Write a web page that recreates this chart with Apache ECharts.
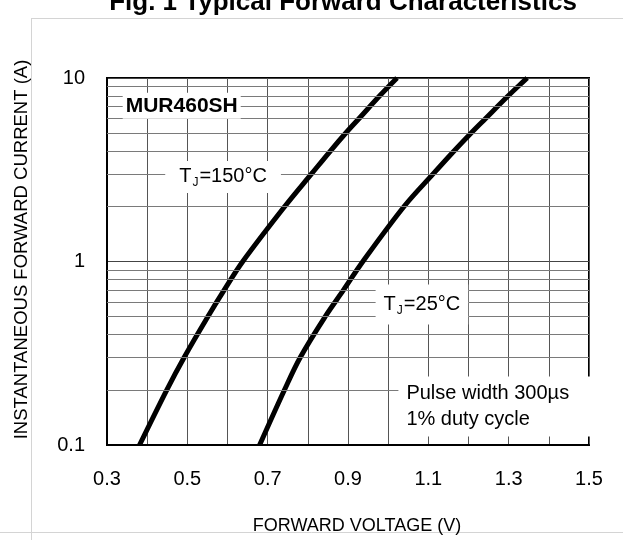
<!DOCTYPE html>
<html><head><meta charset="utf-8">
<script src="https://cdn.jsdelivr.net/npm/echarts@6/dist/echarts.min.js"></script>
<style>html,body{margin:0;padding:0;background:#fff}#c{width:623px;height:540px}</style>
</head><body><div id="c"></div>
<script>
// Data
const current = [0.1, 0.2, 0.3, 0.5, 0.7, 1, 2, 3, 4, 5, 6, 8, 10];
const voltage150 = [0.381, 0.449, 0.492, 0.551, 0.592, 0.638, 0.743, 0.809, 0.856, 0.894, 0.927, 0.979, 1.022];
const voltage25 = [0.68, 0.742, 0.781, 0.843, 0.889, 0.937, 1.040, 1.112, 1.164, 1.206, 1.242, 1.299, 1.346];
const minorCurrents = [0.2, 0.3, 0.4, 0.5, 0.6, 0.7, 0.8, 0.9, 2, 3, 4, 5, 6, 7, 8, 9];
const xLabels = [0.3, 0.5, 0.7, 0.9, 1.1, 1.3, 1.5];

const FONT = "'Liberation Sans', Arial, sans-serif";
const pair = (vs) => vs.map((v, i) => [v, current[i]]);
const richT = {
  t: { fontSize: 20, fontFamily: FONT, color: '#000' },
  s: { fontSize: 12, fontFamily: FONT, color: '#000', padding: [12, 1, 0, 1] }
};

const chart = echarts.init(document.getElementById('c'), null, { renderer: 'canvas' });
chart.setOption({
  animation: false,
  backgroundColor: '#fff',
  title: {
    text: 'Fig. 1 Typical Forward Characteristics',
    left: 343, top: -10, textAlign: 'center', padding: 0,
    textStyle: { fontFamily: FONT, fontWeight: 'bold', fontSize: 26, color: '#000' }
  },
  graphic: [
    { type: 'line', shape: { x1: 31.5, y1: 18, x2: 31.5, y2: 540 }, style: { stroke: '#d4d4d4', lineWidth: 1 }, z: -10 },
    { type: 'line', shape: { x1: 31, y1: 18.5, x2: 623, y2: 18.5 }, style: { stroke: '#d4d4d4', lineWidth: 1 }, z: -10 },
    { type: 'line', shape: { x1: 0, y1: 532.5, x2: 623, y2: 532.5 }, style: { stroke: '#d4d4d4', lineWidth: 1 }, z: -10 }
  ],
  grid: { left: 107, right: 34, top: 78, bottom: 91, show: true, borderColor: '#000', borderWidth: 2, backgroundColor: 'transparent' },
  xAxis: {
    type: 'value', min: 0.3, max: 1.5, interval: 0.1,
    name: 'FORWARD VOLTAGE (V)', nameLocation: 'middle', nameGap: 72,
    nameTextStyle: { fontFamily: FONT, fontSize: 18, color: '#000', padding: [0, 0, 0, 18] },
    axisLine: { show: true, lineStyle: { color: '#000', width: 2 } },
    axisTick: { show: false },
    axisLabel: {
      margin: 24, fontFamily: FONT, fontSize: 20, color: '#000',
      formatter: (v) => xLabels.some(t => Math.abs(t - v) < 1e-6) ? v.toFixed(1) : ''
    },
    splitLine: { show: true, lineStyle: { color: '#555', width: 1 } }
  },
  yAxis: {
    type: 'log', logBase: 10, min: 0.1, max: 10,
    name: 'INSTANTANEOUS FORWARD CURRENT (A)', nameLocation: 'middle', nameGap: 76,
    nameTextStyle: { fontFamily: FONT, fontSize: 18.5, color: '#000', padding: [0, 0, 0, 24] },
    axisLine: { show: true, lineStyle: { color: '#000', width: 2 } },
    axisTick: { show: false },
    axisLabel: { margin: 22, fontFamily: FONT, fontSize: 20, color: '#000' },
    splitLine: { show: true, lineStyle: { color: '#444', width: 1 } }
  },
  series: [
    {
      type: 'line', data: [], z: 1, silent: true,
      markLine: {
        silent: true, symbol: 'none', animation: false,
        label: { show: false },
        lineStyle: { color: '#7a7a7a', width: 1, type: 'solid' },
        data: minorCurrents.map(c => ({ yAxis: c }))
      }
    },
    {
      name: 'TJ=150C', type: 'line', data: pair(voltage150), smooth: 0.35, showSymbol: false, z: 3,
      lineStyle: { color: '#000', width: 5 }
    },
    {
      name: 'TJ=25C', type: 'line', data: pair(voltage25), smooth: 0.35, showSymbol: false, z: 3,
      lineStyle: { color: '#000', width: 5 },
      markPoint: {
        symbol: 'circle', symbolSize: 0, silent: true, animation: false,
        label: { show: true, position: 'inside', backgroundColor: '#fff', color: '#000', fontFamily: FONT, fontSize: 20 },
        data: [
          { coord: [0.486, 7.06], label: { formatter: 'MUR460SH', fontWeight: 'bold', fontSize: 21, padding: [3, 3, 2, 3] } },
          { coord: [0.589, 2.89], label: { formatter: '{t|T}{s|J}{t|=150°C}', rich: richT, padding: [4, 14, 4, 14] } },
          { coord: [1.084, 0.583], label: { formatter: '{t|T}{s|J}{t|=25°C}', rich: richT, padding: [8, 8, 8, 8] } },
          { coord: [1.0255, 0.162], label: { formatter: 'Pulse width 300µs\n1% duty cycle', position: 'right', distance: 0, align: 'left', lineHeight: 26, fontSize: 20, padding: [4, 24, 4, 8] } }
        ]
      }
    }
  ]
});
</script></body></html>
